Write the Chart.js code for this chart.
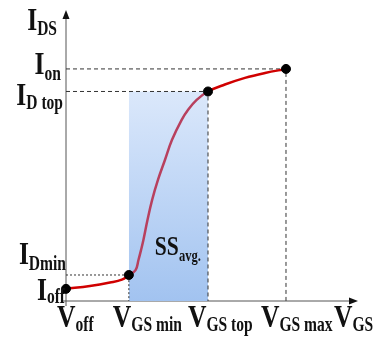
<!DOCTYPE html>
<html>
<head>
<meta charset="utf-8">
<script src="https://cdn.jsdelivr.net/npm/chart.js@4.4.1/dist/chart.umd.min.js"></script>
<style>
  body { margin: 0; background: #fff; }
</style>
</head>
<body>
<canvas id="transfer_chart" width="378" height="340"></canvas>
<script>
// gate voltage markers (arbitrary units, axis runs 0..10)
const v_off = 0;
const vgs_min = 2.16;
const vgs_top = 4.88;
const vgs_max = 7.56;

// drain current markers (arbitrary units, axis runs 0..10)
const i_off = 0.42;
const i_dmin = 0.90;
const i_dtop = 7.25;
const i_on = 8.03;

// transfer curve
const curve_vgs = [0, 0.82, 1.51, 1.92, 2.16, 2.39, 2.49, 2.58, 2.66, 2.80, 2.96, 3.16, 3.40, 3.64, 3.97, 4.19, 4.49, 4.88, 5.46, 6.15, 6.84, 7.56];
const curve_ids = [0.42, 0.52, 0.64, 0.74, 0.90, 1.07, 1.42, 1.77, 2.11, 2.80, 3.50, 4.19, 4.88, 5.57, 6.26, 6.61, 6.96, 7.25, 7.49, 7.72, 7.89, 8.03];

// axis labels: [main, subscript]
const y_labels = [['I', 'on'], ['I', 'D top'], ['I', 'Dmin'], ['I', 'off']];
const y_label_values = [i_on, i_dtop, i_dmin, i_off];
const x_labels = [['V', 'off'], ['V', 'GS min'], ['V', 'GS top'], ['V', 'GS max']];
const x_label_values = [v_off, vgs_min, vgs_top, vgs_max];

const curve_data = curve_vgs.map((v, i) => ({x: v, y: curve_ids[i]}));
const marker_data = [
  {x: v_off, y: i_off},
  {x: vgs_min, y: i_dmin},
  {x: vgs_top, y: i_dtop},
  {x: vgs_max, y: i_on}
];

const SERIF = '"Liberation Serif", "Times New Roman", serif';
const SQ_MAIN = 0.8;
const SQ_SUB = 0.74;

function labelWidth(ctx, main, sub, mainSize, subSize) {
  ctx.font = 'bold ' + mainSize + 'px ' + SERIF;
  let w = ctx.measureText(main).width * SQ_MAIN;
  ctx.font = 'bold ' + subSize + 'px ' + SERIF;
  w += ctx.measureText(sub).width * SQ_SUB;
  return w;
}

function drawLabel(ctx, main, sub, x, y, mainSize, subSize, drop) {
  ctx.save();
  ctx.fillStyle = '#111';
  ctx.textBaseline = 'alphabetic';
  ctx.textAlign = 'left';
  ctx.font = 'bold ' + mainSize + 'px ' + SERIF;
  const w = ctx.measureText(main).width * SQ_MAIN;
  ctx.save();
  ctx.translate(x, y);
  ctx.scale(SQ_MAIN, 1);
  ctx.fillText(main, 0, 0);
  ctx.restore();
  ctx.font = 'bold ' + subSize + 'px ' + SERIF;
  ctx.translate(x + w, y + drop);
  ctx.scale(SQ_SUB, 1);
  ctx.fillText(sub, 0, 0);
  ctx.restore();
}

const axesPlugin = {
  id: 'axes',
  beforeDatasetsDraw(chart) {
    const {ctx, chartArea} = chart;
    const l = chartArea.left, b = chartArea.bottom;
    ctx.save();
    ctx.strokeStyle = '#555';
    ctx.fillStyle = '#111';
    ctx.lineWidth = 1;
    ctx.beginPath();
    ctx.moveTo(l, b + 5);
    ctx.lineTo(l, chartArea.top + 4);
    ctx.moveTo(l - 5, b);
    ctx.lineTo(chartArea.right - 4, b);
    ctx.stroke();
    // arrow heads
    ctx.beginPath();
    ctx.moveTo(l, chartArea.top - 2);
    ctx.lineTo(l - 3.5, chartArea.top + 7);
    ctx.lineTo(l + 3.5, chartArea.top + 7);
    ctx.closePath();
    ctx.fill();
    ctx.beginPath();
    ctx.moveTo(chartArea.right + 1, b);
    ctx.lineTo(chartArea.right - 8, b - 3.5);
    ctx.lineTo(chartArea.right - 8, b + 3.5);
    ctx.closePath();
    ctx.fill();
    ctx.restore();
  },
  afterDraw(chart) {
    const {ctx, chartArea, scales} = chart;
    const xs = scales.x, ys = scales.y;

    // y axis title
    drawLabel(ctx, 'I', 'DS', 57 - labelWidth(ctx, 'I', 'DS', 32, 21), chartArea.top + 18, 32, 21, 5);

    // y markers: right edge, baseline offset, subscript drop
    const y_right = [61, 63, 66, 65];
    const y_dy = [5, 14, -11, 11];
    const y_drop = [6, 4, 6, 3];
    y_labels.forEach((lab, i) => {
      const w = labelWidth(ctx, lab[0], lab[1], 32, 21);
      drawLabel(ctx, lab[0], lab[1], y_right[i] - w, ys.getPixelForValue(y_label_values[i]) + y_dy[i], 32, 21, y_drop[i]);
    });

    // x markers
    const x_dx = [-9, -16, -20, -25];
    const base = chartArea.bottom + 26;
    x_labels.forEach((lab, i) => {
      drawLabel(ctx, lab[0], lab[1], xs.getPixelForValue(x_label_values[i]) + x_dx[i], base, 32, 21, 4);
    });
    drawLabel(ctx, 'V', 'GS', chartArea.right - 23, base, 32, 21, 4);

    // slope label inside the shaded band
    drawLabel(ctx, 'SS', 'avg.', xs.getPixelForValue(vgs_min) + 26, ys.getPixelForValue(i_dmin) - 20, 27, 17, 6);
  }
};

const transfer_ctx = document.getElementById('transfer_chart');

const transfer_config = {
  type: 'line',
  data: {
    datasets: [
      {
        data: marker_data,
        showLine: false,
        pointRadius: 4.5,
        pointBackgroundColor: '#000',
        pointBorderColor: '#000',
        clip: false,
        order: 0
      },
      {
        data: curve_data,
        borderColor: '#d00000',
        borderWidth: 2.5,
        pointRadius: 0,
        tension: 0.4,
        segment: {
          borderColor: c => (c.p0.parsed.x >= vgs_min && c.p1.parsed.x <= vgs_top) ? '#b8405e' : '#d00000'
        },
        order: 1
      },
      {
        data: [{x: 0, y: i_on}, {x: vgs_max, y: i_on}, {x: vgs_max, y: 0}],
        borderColor: '#333',
        borderWidth: 1,
        borderDash: [4, 3],
        pointRadius: 0,
        order: 2
      },
      {
        data: [{x: 0, y: i_dtop}, {x: vgs_top, y: i_dtop}, {x: vgs_top, y: 0}],
        borderColor: '#333',
        borderWidth: 1,
        borderDash: [4, 3],
        pointRadius: 0,
        order: 2
      },
      {
        data: [{x: 0, y: i_dmin}, {x: vgs_min, y: i_dmin}, {x: vgs_min, y: 0}],
        borderColor: '#333',
        borderWidth: 1,
        borderDash: [2, 2],
        pointRadius: 0,
        order: 2
      },
      {
        data: [{x: vgs_min, y: i_dtop}, {x: vgs_top, y: i_dtop}],
        borderWidth: 0,
        pointRadius: 0,
        fill: 'origin',
        backgroundColor: c => {
          const {ctx, chartArea, scales} = c.chart;
          if (!chartArea) return '#c8dcf6';
          const g = ctx.createLinearGradient(0, scales.y.getPixelForValue(i_dtop), 0, chartArea.bottom);
          g.addColorStop(0, '#dbe8fb');
          g.addColorStop(1, '#a2c3f0');
          return g;
        },
        order: 5
      }
    ]
  },
  options: {
    responsive: false,
    animation: false,
    events: [],
    layout: {
      padding: {left: 66, right: 21, top: 12, bottom: 39}
    },
    scales: {
      x: {type: 'linear', min: 0, max: 10, display: false},
      y: {type: 'linear', min: 0, max: 10, display: false}
    },
    plugins: {
      legend: {display: false},
      tooltip: {enabled: false}
    }
  },
  plugins: [axesPlugin]
};
const transfer_chart = new Chart(transfer_ctx, transfer_config);
</script>
</body>
</html>
